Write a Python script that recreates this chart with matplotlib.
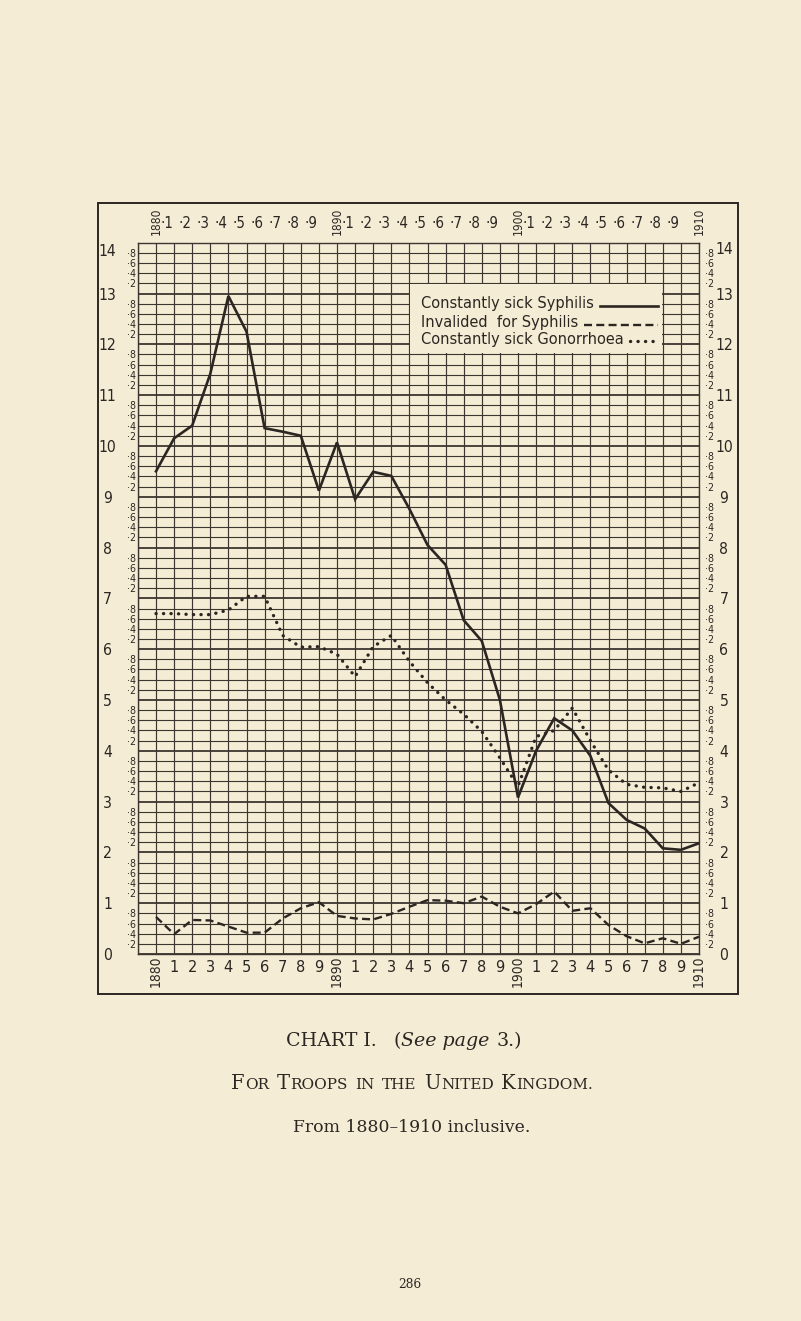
import numpy as np
import matplotlib
matplotlib.use('Agg')
import matplotlib.pyplot as plt
from matplotlib import font_manager, transforms
from matplotlib.patches import Rectangle

# ---------------- data ----------------
years = list(range(1880, 1911))
syphilis_sick = [9.50, 10.15, 10.40, 11.42, 12.95, 12.25, 10.35, 10.28, 10.20, 9.12,
                 10.07, 8.95, 9.49, 9.41, 8.76, 8.05, 7.66, 6.57, 6.16, 5.00,
                 3.08, 4.00, 4.64, 4.40, 3.90, 2.97, 2.64, 2.47, 2.08, 2.05, 2.18]
syphilis_invalided = [0.73, 0.39, 0.67, 0.66, 0.54, 0.42, 0.42, 0.70, 0.90, 1.02,
                      0.75, 0.70, 0.68, 0.79, 0.93, 1.06, 1.05, 1.00, 1.13, 0.93,
                      0.80, 0.98, 1.23, 0.85, 0.90, 0.57, 0.35, 0.21, 0.31, 0.20, 0.34]
gonorrhoea_sick = [6.70, 6.70, 6.68, 6.68, 6.77, 7.04, 7.04, 6.27, 6.04, 6.05,
                   5.90, 5.46, 6.05, 6.27, 5.76, 5.34, 5.00, 4.72, 4.38, 3.86,
                   3.30, 4.28, 4.40, 4.84, 4.20, 3.62, 3.34, 3.28, 3.27, 3.20, 3.37]
legend_labels = ['Constantly sick Syphilis', 'Invalided  for Syphilis',
                 'Constantly sick Gonorrhoea']
y_major = list(range(0, 15))
y_minor_labels = ['·8', '·6', '·4', '·2']

# ---------------- style ----------------
W, H = 801, 1321
BG = '#f4ecd5'
INK = '#2b2622'
GRID = '#3d3630'

ttf = font_manager.fontManager.ttflist
names = {f.name for f in ttf}
if 'Liberation Sans Narrow' in names:
    NARROW, NSTRETCH, NK = ['Liberation Sans Narrow', 'DejaVu Sans'], 'normal', 1.0
elif any(f.name == 'DejaVu Sans' and str(f.stretch) == 'condensed' for f in ttf):
    NARROW, NSTRETCH, NK = ['DejaVu Sans'], 'condensed', 0.9
else:
    NARROW, NSTRETCH, NK = ['DejaVu Sans'], 'normal', 0.82
SERIF = ['DejaVu Serif']

# layout (pixels in the 801x1321 page)
X0, X1 = 137.9, 699.0      # x of 1879 and 1910 grid lines
Y_TOP, Y_BOT = 242.7, 954.0  # y of 14 and 0 grid lines


def fx(px):
    return px / W


def fy(py):
    return 1 - py / H


def yval(py):
    return (Y_BOT - py) / (Y_BOT - Y_TOP) * 14


def xval(px):
    return 1879 + (px - X0) / (X1 - X0) * 31


fig = plt.figure(figsize=(W / 100, H / 100), dpi=100)
fig.patch.set_facecolor(BG)
ax = fig.add_axes([fx(X0), fy(Y_BOT), (X1 - X0) / W, (Y_BOT - Y_TOP) / H])
ax.set_facecolor(BG)
ax.set_xlim(1879, 1910)
ax.set_ylim(0, 14)
ax.set_xticks(range(1879, 1911))
ax.set_yticks(y_major)
ax.set_yticks(np.round(np.arange(0, 14.01, 0.2), 1), minor=True)
ax.tick_params(which='both', length=0, labelbottom=False, labelleft=False)
ax.grid(True, which='major', axis='y', color=GRID, lw=1.3)
ax.grid(True, which='minor', axis='y', color=GRID, lw=0.8)
ax.grid(True, which='major', axis='x', color=GRID, lw=0.85)
ax.set_axisbelow(True)
for s in ax.spines.values():
    s.set_color(GRID)
    s.set_linewidth(1.0)

# blank legend panel over the grid
ax.add_patch(Rectangle((1894.05, 11.82), 13.9, 1.36, facecolor=BG,
                       edgecolor='none', zorder=1))

# ---------------- series ----------------
ax.plot(years, syphilis_sick, color=INK, lw=1.9, zorder=3,
        solid_joinstyle='miter')
ax.plot(years, syphilis_invalided, color=INK, lw=1.7, zorder=3,
        linestyle=(0, (3.4, 1.8)))
ax.plot(years, gonorrhoea_sick, color=INK, lw=2.4, zorder=3,
        linestyle=(0, (0.05, 2.2)), dash_capstyle='round')

renderer = fig.canvas.get_renderer()

# ---------------- legend ----------------
leg_x = xval(421)
leg_base = [yval(308.3), yval(327.3), yval(344.0)]
leg_texts = []
for lab, yb in zip(legend_labels, leg_base):
    t = ax.text(leg_x, yb, lab, fontsize=12, family=NARROW, fontstretch=NSTRETCH,
                color=INK, ha='left', va='baseline', zorder=4)
    leg_texts.append(t)
w0 = leg_texts[0].get_window_extent(renderer).width
lsize = 12 * 172.0 / w0
for t in leg_texts:
    t.set_fontsize(lsize)
styles = [dict(lw=1.9), dict(lw=1.7, linestyle=(0, (3.4, 1.8))),
          dict(lw=2.4, linestyle=(0, (0.05, 2.2)), dash_capstyle='round')]
inv = ax.transData.inverted()
x_end = xval(658)
for t, yb, st in zip(leg_texts, leg_base, styles):
    bb = t.get_window_extent(renderer)
    xs = inv.transform((bb.x1 + 6, bb.y0))[0]
    ax.plot([xs, x_end], [yb + 0.05, yb + 0.05], color=INK, zorder=4, **st)

# ---------------- axis labels ----------------
tl = transforms.blended_transform_factory(fig.transFigure, ax.transData)
lab_kw = dict(family=NARROW, fontstretch=NSTRETCH, color=INK, transform=tl,
              ha='center', va='center_baseline')
for v in y_major:
    ax.text(fx(107.5), v if v < 14 else yval(250), str(v), fontsize=12.5 * NK, **lab_kw)
    ax.text(fx(724), v if v < 14 else yval(248), str(v), fontsize=12.5 * NK, **lab_kw)
for i in range(14):
    for j, lab in enumerate(y_minor_labels):
        v = i + 0.8 - 0.2 * j
        ax.text(fx(132), v, lab, fontsize=8.4 * NK, **lab_kw)
        ax.text(fx(709), v, lab, fontsize=8.4 * NK, **lab_kw)

tt = transforms.blended_transform_factory(ax.transData, fig.transFigure)
yr_kw = dict(family=NARROW, fontstretch=NSTRETCH, color=INK, transform=tt)
for yr in years:
    if yr % 10 == 0:
        ax.text(yr, fy(221), str(yr), rotation=90, ha='center', va='center',
                fontsize=9.5 * NK, **yr_kw)
        ax.text(yr, fy(971), str(yr), rotation=90, ha='center', va='center',
                fontsize=11 * NK, **yr_kw)
    else:
        ax.text(yr - 0.06, fy(223), '·%d' % (yr % 10), ha='right', va='center',
                fontsize=12 * NK, **yr_kw)
        ax.text(yr, fy(968), str(yr % 10), ha='center', va='center',
                fontsize=13 * NK, **yr_kw)

# outer frame
fig.add_artist(Rectangle((fx(98), fy(994)), fx(738) - fx(98), fy(203) - fy(994),
                         transform=fig.transFigure, fill=False, lw=1.4,
                         edgecolor=INK))


# ---------------- captions ----------------
def compose(runs, cx_px, base_py, target_w, base_size=12):
    def build(size):
        arts, widths = [], []
        for txt, rel, style in runs:
            if txt is None:
                arts.append(None)
                widths.append(rel * size * 100 / 72)
            else:
                t = fig.text(0, fy(base_py), txt, fontsize=size * rel, style=style,
                             family=SERIF, color=INK, ha='left', va='baseline')
                arts.append(t)
                widths.append(t.get_window_extent(renderer).width)
        return arts, widths

    arts, widths = build(base_size)
    size = base_size * target_w / sum(widths)
    for a in arts:
        if a is not None:
            a.remove()
    arts, widths = build(size)
    x = cx_px - sum(widths) / 2
    for a, w in zip(arts, widths):
        if a is not None:
            a.set_x(fx(x))
        x += w


compose([('CHART I.', 1, 'normal'), (None, 0.9, None), ('(', 1, 'normal'),
         ('See page', 1, 'italic'), (None, 0.35, None), ('3.)', 1, 'normal')],
        404, 1046, 235)

sc = []
for word in 'For Troops in the United Kingdom.'.split(' '):
    if sc:
        sc.append((None, 0.38, None))
    if word[0].isupper():
        sc.append((word[0], 1, 'normal'))
        rest = word[1:]
    else:
        rest = word
    if rest:
        if sc and sc[-1][0] is not None:
            sc.append((None, 0.03, None))
        sc.append((rest.upper(), 0.78, 'normal'))
compose(sc, 412, 1089, 362)

compose([('From 1880–1910 inclusive.', 1, 'normal')], 412, 1132, 237)
compose([('286', 1, 'normal')], 410, 1288, 23)

fig.savefig('out.png', dpi=100, facecolor=BG)
